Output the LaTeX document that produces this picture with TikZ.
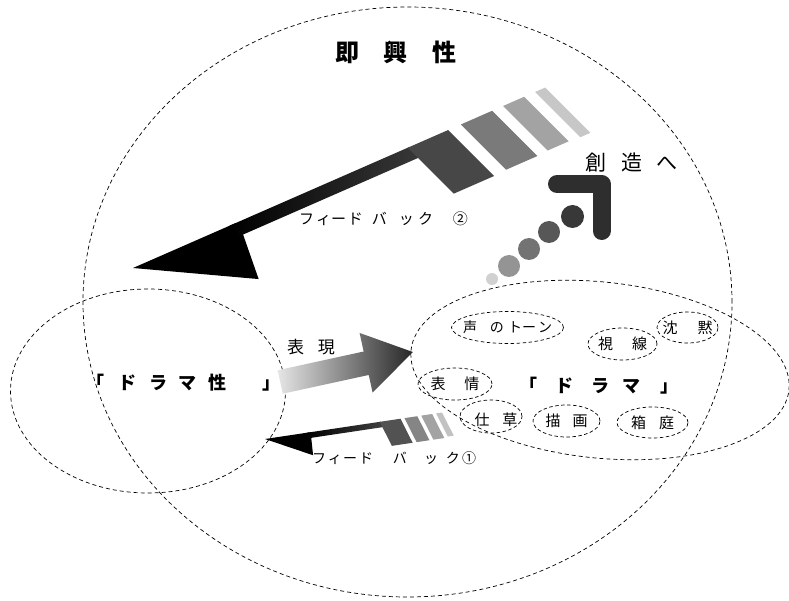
\documentclass[tikz,border=0pt]{standalone}
\usepackage{fontspec}
\newfontfamily\jp{Noto Sans CJK JP}
\usetikzlibrary{shapes.geometric}
\begin{document}
\begin{tikzpicture}[x=1pt,y=-1pt,
  ring/.style={draw, ellipse, dash pattern=on 4pt off 3pt, line width=0.7pt, inner sep=0pt},
  tag/.style={draw, ellipse, dash pattern=on 3.5pt off 2.5pt, line width=0.7pt, inner sep=0pt},
  lbl/.style={inner sep=0pt, font=\jp\fontsize{15pt}{15pt}\selectfont},
  lblS/.style={inner sep=0pt, font=\jp\fontsize{14pt}{14pt}\selectfont},
  big/.style={inner sep=0pt, font=\jp\bfseries\fontsize{18pt}{18pt}\selectfont}]
\useasboundingbox (0,0) rectangle (789,601);
\fill[white] (0,0) rectangle (789,601);

% large regions
\node[ring, minimum width=649pt, minimum height=590pt] (soku) at (407.5,302) {};
\node[ring, minimum width=275pt, minimum height=204pt] (dramasei) at (148,391) {};
\node[ring, rotate=-6, minimum width=380pt, minimum height=176pt] (drama) at (600,370) {};

% small tags
\node[tag, minimum width=112pt, minimum height=32pt, label={[lblS]center:声\kern13pt の\kern4pt ト\kern0pt ー\kern2pt ン}] (tone) at (507.5,327.5) {};
\node[tag, minimum width=69pt, minimum height=32pt, label={[lbl]center:視\kern19pt 線}] (shisen) at (622.5,344) {};
\node[tag, minimum width=61pt, minimum height=31pt, label={[lbl]center:沈\kern20pt 黙}] (chinmoku) at (687.5,327.5) {};
\node[tag, minimum width=74pt, minimum height=32pt, label={[lbl]center:表\kern19pt 情}] (hyojo) at (455,384) {};
\node[tag, minimum width=62pt, minimum height=33pt, label={[lbl, xshift=5pt, yshift=-3pt]center:仕\kern13pt 草}] (shigusa) at (491,416.5) {};
\node[tag, minimum width=67pt, minimum height=32pt, label={[lbl]center:描\kern12pt 画}] (byoga) at (566.5,421) {};
\node[tag, minimum width=71pt, minimum height=31pt, label={[lbl]center:箱\kern13pt 庭}] (hakoniwa) at (652.5,422.5) {};

% titles
\node[inner sep=0pt, font=\jp\bfseries\fontsize{24pt}{24pt}\selectfont] (sokko) at (396,52) {即\kern25pt 興\kern25pt 性};
\node[big] (tDramasei) at (183.5,383) {「\kern15pt ド\kern13pt ラ\kern11pt マ\kern12pt 性\kern36pt 」};
\node[big] (tDrama) at (599,386) {「\kern19pt ド\kern17pt ラ\kern13pt マ\kern21pt 」};
\node[inner sep=0pt, font=\jp\fontsize{17pt}{17pt}\selectfont] (hyogen) at (311,347) {表\kern14pt 現};
\node[inner sep=0pt, font=\jp\fontsize{21pt}{21pt}\selectfont] (sozo) at (631.5,163) {創\kern15pt 造\kern15pt へ};
\node[inner sep=0pt, font=\jp\fontsize{15pt}{15pt}\selectfont] (fb2) at (383.5,218.5) {フ\kern2pt ィ\kern0pt ー\kern2pt ド\kern9pt バ\kern12pt ッ\kern4pt ク\kern20pt ②};
\node[inner sep=0pt, font=\jp\fontsize{14pt}{14pt}\selectfont] (fb1) at (394,458) {フ\kern2pt ィ\kern1pt ー\kern2pt ド\kern20pt バ\kern17pt ッ\kern8pt ク\kern2pt ①};

% feedback arrow 2 (large)
\begin{scope}[shift={(133,268)}, x={(0.916pt,0.401pt)}, y={(0.707pt,-0.707pt)}]
  \fill[black] (0,0) -- (112,0) -- (109,14.5) -- (87,65) -- cycle;
  \shade[left color=black, right color=black!78] (105,0) -- (302,0) -- (302,14.5) -- (105,14.5) -- cycle;
  \fill[black!72] (300,0) -- (344,0) -- (344,65) -- (300,65) -- cycle;
  \fill[black!52] (358,0) -- (392,0) -- (392,64) -- (358,64) -- cycle;
  \fill[black!36] (404,0) -- (427,0) -- (427,63) -- (404,63) -- cycle;
  \fill[black!22] (439,0) -- (450,0) -- (450,64) -- (439,64) -- cycle;
\end{scope}

% feedback arrow 1 (small)
\begin{scope}[shift={(265,439)}, x={(0.989pt,0.148pt)}, y={(0.45pt,-0.89pt)}]
  \fill[black] (0,0) -- (46,0) -- (44,6) -- (37.5,24.5) -- cycle;
  \shade[left color=black, right color=black!75] (42,0) -- (117,0) -- (117,6) -- (42,6) -- cycle;
  \fill[black!68] (116,0) -- (137,0) -- (137,27) -- (116,27) -- cycle;
  \fill[black!48] (141,0) -- (154,0) -- (154,27) -- (141,27) -- cycle;
  \fill[black!36] (158,0) -- (169,0) -- (169,27) -- (158,27) -- cycle;
  \fill[black!24] (173,0) -- (179,0) -- (179,26) -- (173,26) -- cycle;
\end{scope}

% expression arrow
\begin{scope}[shift={(280,381)}, x={(0.977pt,0.213pt)}, y={(0.213pt,-0.977pt)}]
  \shade[left color=black!10, right color=black!85]
    (0,-11) -- (88,-11) -- (88,-30) -- (136,0) -- (88,31) -- (88,13) -- (0,13) -- cycle;
\end{scope}

% dotted arrow towards creation
\fill[black!18] (492,279) circle (6);
\fill[black!42] (509,266) circle (11);
\fill[black!55] (529,249) circle (11);
\fill[black!66] (549,232) circle (11);
\fill[black!78] (572.5,216.5) circle (11.5);
\draw[black!82, line width=18pt, line cap=round, line join=round] (557,184) -- (601.5,184) -- (601.5,231);
\end{tikzpicture}
\end{document}
